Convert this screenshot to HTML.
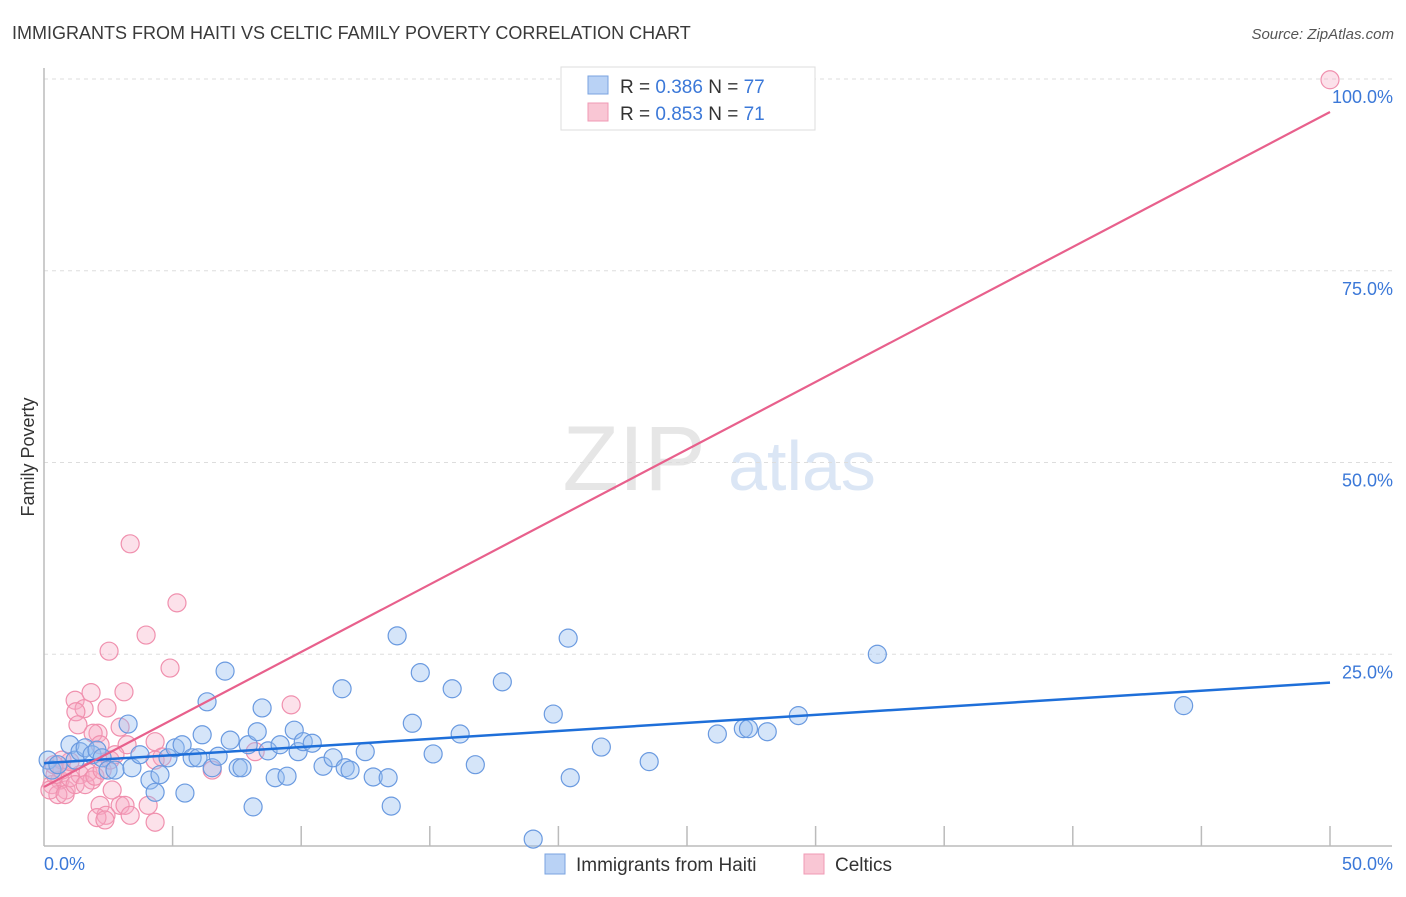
<!DOCTYPE html>
<html><head><meta charset="utf-8"><style>
body{margin:0;background:#fff;font-family:"Liberation Sans",sans-serif}
svg text{font-family:"Liberation Sans",sans-serif}
</style></head><body>
<svg id="chart" width="1406" height="892" xmlns="http://www.w3.org/2000/svg">
<text x="12" y="39" font-size="18" fill="#3a3a3a">IMMIGRANTS FROM HAITI VS CELTIC FAMILY POVERTY CORRELATION CHART</text>
<text x="1394" y="39" font-size="15" fill="#555" text-anchor="end" font-style="italic">Source: ZipAtlas.com</text>
<g>
<text x="634" y="490" font-size="92" fill="#e6e6e6" text-anchor="middle" font-family="Liberation Serif">ZIP</text>
<text x="802" y="490" font-size="70" fill="#dbe6f5" text-anchor="middle">atlas</text>
</g>
<g id="grid"></g>
<g id="axes"></g>
<g id="pts"></g>
<g id="lines"></g>
<text transform="translate(34,457) rotate(-90)" font-size="18" fill="#333" text-anchor="middle">Family Poverty</text>
<g>
<rect x="561" y="67" width="254" height="63" fill="#fff" stroke="#ddd"/>
<rect x="588" y="76" width="20" height="18" fill="#b9d2f5" stroke="#7aa3e0"/>
<rect x="588" y="103" width="20" height="18" fill="#f9c6d4" stroke="#f09ab5"/>
<text x="620" y="93" font-size="19" fill="#333">R = <tspan fill="#3b78d8">0.386</tspan>    N = <tspan fill="#3b78d8">77</tspan></text>
<text x="620" y="120" font-size="19" fill="#333">R = <tspan fill="#3b78d8">0.853</tspan>    N = <tspan fill="#3b78d8"> 71</tspan></text>
</g>
<g>
<rect x="545" y="854" width="20" height="20" fill="#b9d2f5" stroke="#7aa3e0"/>
<text x="576" y="871" font-size="19" fill="#333">Immigrants from Haiti</text>
<rect x="804" y="854" width="20" height="20" fill="#f9c6d4" stroke="#f09ab5"/>
<text x="835" y="871" font-size="19" fill="#333">Celtics</text>
</g>
</svg>
<script>
const xTicks=[0,5,10,15,20,25,30,35,40,45,50];
const yTicks=[25,50,75,100];
const yTickLabels=["25.0%","50.0%","75.0%","100.0%"];
const xTickLabels=["0.0%","50.0%"];
const haitiX=[0.16,0.31,0.54,1.01,1.21,1.40,1.60,1.87,2.06,2.26,2.49,2.76,3.27,3.42,3.73,4.12,4.32,4.51,4.82,5.10,5.37,5.48,5.76,5.99,6.15,6.34,6.54,6.77,7.04,7.24,7.55,7.70,7.94,8.13,8.29,8.48,8.71,8.99,9.18,9.45,9.73,9.88,10.08,10.43,10.85,11.24,11.59,11.71,11.90,12.49,12.80,13.38,13.50,13.73,14.32,14.63,15.13,15.87,16.18,16.77,17.82,19.02,19.80,20.38,20.46,21.67,23.53,26.18,27.19,27.39,28.12,29.33,32.40,44.31];
const haitiY=[11.2,9.9,10.6,13.2,11.2,12.3,12.8,11.9,12.5,11.5,9.9,9.9,15.9,10.2,11.9,8.6,7.0,9.3,11.5,12.8,13.2,6.9,11.5,11.5,14.5,18.8,10.2,11.7,22.8,13.8,10.2,10.2,13.2,5.1,14.9,18.0,12.4,8.9,13.2,9.1,15.1,12.3,13.6,13.4,10.4,11.5,20.5,10.2,9.9,12.3,9.0,8.9,5.2,27.4,16.0,22.6,12.0,20.5,14.6,10.6,21.4,0.9,17.2,27.1,8.9,12.9,11.0,14.6,15.3,15.3,14.9,17.0,25.0,18.3];
const celticX=[3.35,5.17,3.97,2.53,3.11,1.83,1.21,4.90,9.61,2.45,1.56,1.24,2.96,1.32,2.10,1.91,4.32,2.18,3.23,8.21,6.54,2.65,2.18,2.96,3.15,4.05,2.41,3.35,4.32,2.06,2.37,0.86,0.62,0.31,0.43,0.70,1.01,1.40,1.71,1.87,0.54,0.23,0.82,1.21,1.60,1.98,2.26,2.57,2.76,1.01,0.70,0.39,4.59,4.32,50.0];
const celticY=[39.4,31.7,27.5,25.4,20.1,20.0,19.0,23.2,18.4,18.0,17.9,17.5,15.5,15.8,14.7,14.7,13.6,13.2,13.2,12.3,9.9,7.3,5.3,5.3,5.3,5.3,4.0,4.0,3.1,3.7,3.4,7.3,8.6,8.0,9.3,9.9,8.9,9.3,9.6,8.6,6.7,7.3,6.7,8.0,8.0,9.1,9.9,11.2,11.9,11.0,11.2,10.6,11.6,11.2,99.9];
const trendHaiti=[10.8,21.3];   // y at x=0 and x=50
const trendCeltic=[7.7,95.7];
const X=v=>44+v/50*1286, Y=v=>846-v/100*767;
const NS="http://www.w3.org/2000/svg";
function mk(tag,attrs,parent){const e=document.createElementNS(NS,tag);for(const k in attrs)e.setAttribute(k,attrs[k]);document.getElementById(parent).appendChild(e);return e;}
yTicks.forEach((t,i)=>{
  const l=mk('line',{x1:44,x2:1392,y1:Y(t),y2:Y(t),stroke:'#ddd','stroke-dasharray':'4,4'},'grid');
  
  
  const tx=mk('text',{x:1393,y:Y(t)+24,'font-size':18,fill:'#3b78d8','text-anchor':'end'},'grid');
  tx.textContent=yTickLabels[i];
  
  
});
const ax=mk('line',{x1:44,x2:44,y1:68,y2:846,stroke:'#bbb','stroke-width':1.5},'axes');


const bx=mk('line',{x1:44,x2:1392,y1:846,y2:846,stroke:'#bbb','stroke-width':1.5},'axes');


xTicks.slice(1).forEach(t=>{
  const l=mk('line',{x1:X(t),x2:X(t),y1:826,y2:846,stroke:'#bbb','stroke-width':1.5},'axes');
  
  
});
[[0,44,'start'],[1,1393,'end']].forEach(([i,x,a])=>{
  const t=mk('text',{x:x,y:870,'font-size':18,fill:'#3b78d8','text-anchor':a},'axes');
  t.textContent=xTickLabels[i];
  
  
});
celticX.forEach((v,i)=>{
  const c=mk('circle',{cx:X(v),cy:Y(celticY[i]),r:9,fill:'rgba(247,170,195,0.35)',stroke:'#f090ae','stroke-width':1.2},'pts');
  
  
});
haitiX.forEach((v,i)=>{
  const c=mk('circle',{cx:X(v),cy:Y(haitiY[i]),r:9,fill:'rgba(150,190,240,0.4)',stroke:'#6a9ae0','stroke-width':1.2},'pts');
  
  
});
const lh=mk('line',{x1:X(0),y1:Y(trendHaiti[0]),x2:X(50),y2:Y(trendHaiti[1]),stroke:'#1e6fd9','stroke-width':2.5},'lines');


const lc=mk('line',{x1:X(0),y1:Y(trendCeltic[0]),x2:X(50),y2:Y(trendCeltic[1]),stroke:'#e8608c','stroke-width':2.2},'lines');


</script>
</body></html>
